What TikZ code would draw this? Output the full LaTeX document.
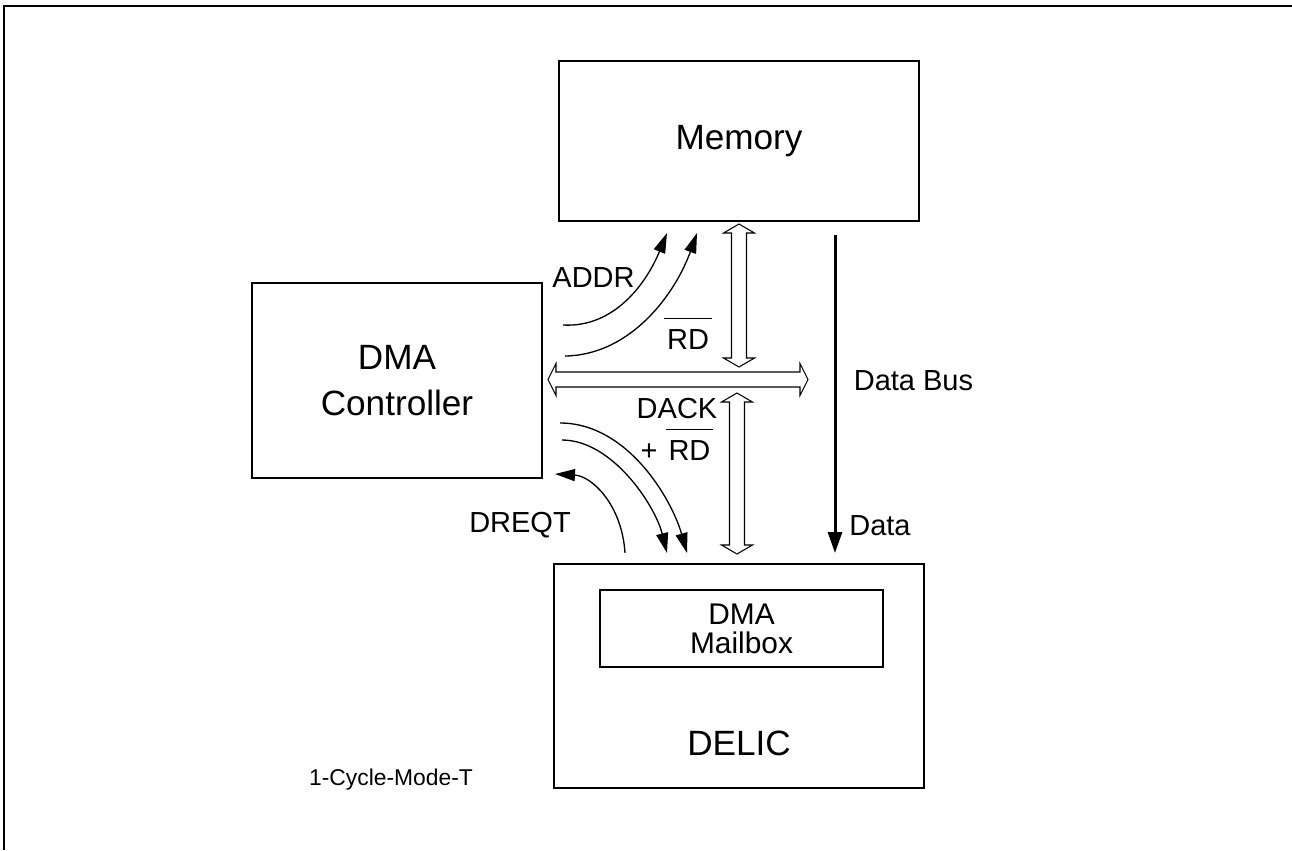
\documentclass[tikz,border=0pt]{standalone}
\usepackage{fontspec}
\setmainfont{Liberation Sans}
\usepackage{tikz}
\usetikzlibrary{arrows.meta, positioning}

\newcommand{\barover}[1]{\vbox{\hrule height 0.8pt\kern 5.5pt\hbox{\kern1.7pt#1\kern1.7pt}}}

\begin{document}
\begin{tikzpicture}[x=0.02cm, y=-0.02cm,
  box/.style={draw, line width=1.1pt, inner sep=0pt},
  big/.style={font=\fontsize{20}{26}\selectfont},
  lbl/.style={font=\fontsize{16.5}{19}\selectfont, inner sep=0pt, anchor=base},
  sig/.style={-{Triangle[length=0.4cm, width=0.24cm]}, line width=0.75pt},
  bus/.style={draw, line width=0.6pt, fill=white}]
  \useasboundingbox (0,0) rectangle (1292,850);
  \draw[line width=1.15pt] (4,850) -- (4,6) -- (1292,6);

  \node[box, big, minimum width=7.2cm, minimum height=3.2cm] (memory) at (739,141) {Memory};
  \node[box, big, minimum width=5.8cm, minimum height=3.9cm, align=center] (dma) at (397,380.5) {DMA\\Controller};
  \node[box, minimum width=7.4cm, minimum height=4.48cm] (delic) at (739,676) {};
  \node[box, font=\fontsize{17}{16.5}\selectfont, minimum width=5.66cm, minimum height=1.54cm, align=center] (mailbox) at (741.5,628.5) {DMA\\Mailbox};
  \node[big, anchor=base, inner sep=0pt] (delictext) at (739,755) {DELIC};

  \draw[bus] (548,379.5) -- (556,363.5) -- (556,372) -- (800,372) -- (800,363.5) -- (808,379.5)
    -- (800,395.5) -- (800,387) -- (556,387) -- (556,395.5) -- cycle;
  \draw[bus] (739,224) -- (754.5,233) -- (746.5,233) -- (746.5,358) -- (754.5,358) -- (739,367)
    -- (723.5,358) -- (731.5,358) -- (731.5,233) -- (723.5,233) -- cycle;
  \draw[bus] (737,393) -- (752.5,402) -- (744.5,402) -- (744.5,545) -- (752.5,545) -- (737,554)
    -- (721.5,545) -- (729.5,545) -- (729.5,402) -- (721.5,402) -- cycle;

  \coordinate (addr-s) at (563,325);
  \coordinate (addr-e) at (667,233);
  \coordinate (rd-s) at (565,356);
  \coordinate (rd-e) at (697,233);
  \coordinate (dack-s) at (560,423);
  \coordinate (dack-e) at (687,553);
  \coordinate (dackrd-s) at (562,440);
  \coordinate (dackrd-e) at (667,553);
  \coordinate (dreqt-s) at (625,553);
  \coordinate (dreqt-e) at (555,474);
  \coordinate (bus-s) at (835,235);
  \coordinate (bus-e) at (835,553);

  \draw[sig] (addr-s) .. controls (615,328) and (647,282) .. (addr-e);
  \draw[sig] (rd-s) .. controls (632,355) and (676,292) .. (rd-e);
  \draw[sig] (dack-s) .. controls (628,423) and (672,500) .. (dack-e);
  \draw[sig] (dackrd-s) .. controls (612,440) and (655,505) .. (dackrd-e);
  \draw[sig] (dreqt-s) .. controls (622,505) and (592,476) .. (dreqt-e);
  \draw[line width=1.7pt, -{Triangle[length=0.42cm, width=0.28cm]}] (bus-s) -- (bus-e);

  \node[lbl] (addr) at (593.5,287) {ADDR};
  \node[lbl] (rd) at (688,349) {\barover{RD}};
  \node[lbl] (dack) at (677,418) {DACK};
  \node[lbl] (dackrd) at (677,460) {+ \barover{RD}};
  \node[lbl] (dreqt) at (520,532) {DREQT};
  \node[lbl] (databus) at (913.5,390) {Data Bus};
  \node[lbl] (data) at (880,535) {Data};
  \node[lbl, font=\fontsize{13}{15}\selectfont] (mode) at (391,785) {1-Cycle-Mode-T};
\end{tikzpicture}
\end{document}
